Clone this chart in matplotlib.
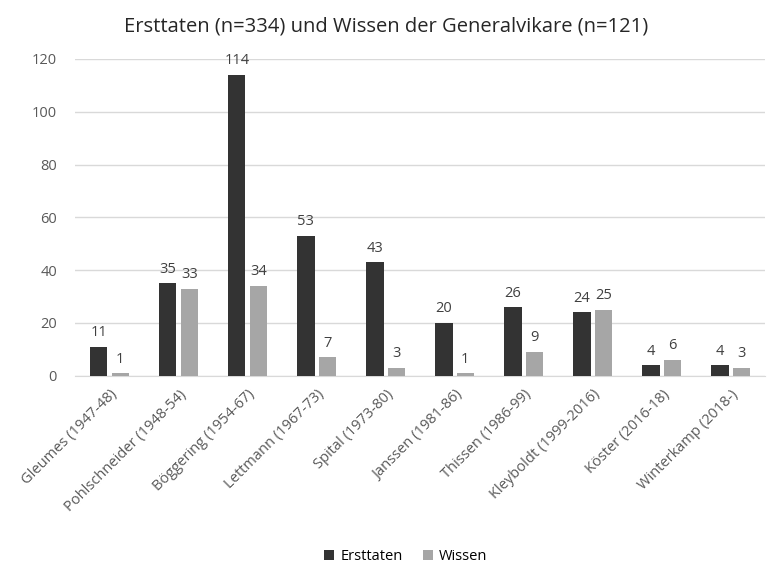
import numpy as np
import matplotlib.pyplot as plt

categories = ["Gleumes (1947-48)", "Pohlschneider (1948-54)", "Böggering (1954-67)",
              "Lettmann (1967-73)", "Spital (1973-80)", "Janssen (1981-86)",
              "Thissen (1986-99)", "Kleyboldt (1999-2016)", "Köster (2016-18)",
              "Winterkamp (2018-)"]
ersttaten = [11, 35, 114, 53, 43, 20, 26, 24, 4, 4]
wissen = [1, 33, 34, 7, 3, 1, 9, 25, 6, 3]

plt.rcParams['font.family'] = ['Open Sans', 'DejaVu Sans']

fig = plt.figure(figsize=(7.73, 5.66), dpi=100)
ax = fig.add_axes([0.097, 0.336, 0.893, 0.56])

x = np.arange(len(categories))
w = 0.25
off = 0.155
b1 = ax.bar(x - off, ersttaten, w, color="#333333", label="Ersttaten", zorder=3)
b2 = ax.bar(x + off, wissen, w, color="#a6a6a6", label="Wissen", zorder=3)

for bars, vals in ((b1, ersttaten), (b2, wissen)):
    for r, v in zip(bars, vals):
        ax.text(r.get_x() + r.get_width() / 2, v + 2.5, str(v), ha="center",
                va="bottom", fontsize=10.5, color="#404040")

ax.set_ylim(0, 120)
ax.set_xlim(-0.5, len(categories) - 0.5)
ax.set_yticks(range(0, 121, 20))
ax.yaxis.grid(True, color="#d9d9d9", linewidth=1, zorder=0)
ax.set_xticks(x)
ax.set_xticklabels(categories, rotation=45, ha="right", rotation_mode="anchor",
                   fontsize=10.5, color="#595959")
ax.tick_params(axis="y", labelsize=10.5, labelcolor="#595959", length=0, pad=13)
ax.tick_params(axis="x", length=0, pad=8)
for s in ("top", "right", "left"):
    ax.spines[s].set_visible(False)
ax.spines["bottom"].set_color("#d9d9d9")

fig.suptitle("Ersttaten (n=334) und Wissen der Generalvikare (n=121)",
             y=0.97, fontsize=14.5, color="#262626")
fig.legend(handles=[b1, b2], loc="lower center", bbox_to_anchor=(0.525, -0.02),
           ncol=2, frameon=False, fontsize=10.5, handlelength=0.7, handleheight=0.7,
           columnspacing=1.4, handletextpad=0.4)

fig.savefig("out.png", dpi=100)
